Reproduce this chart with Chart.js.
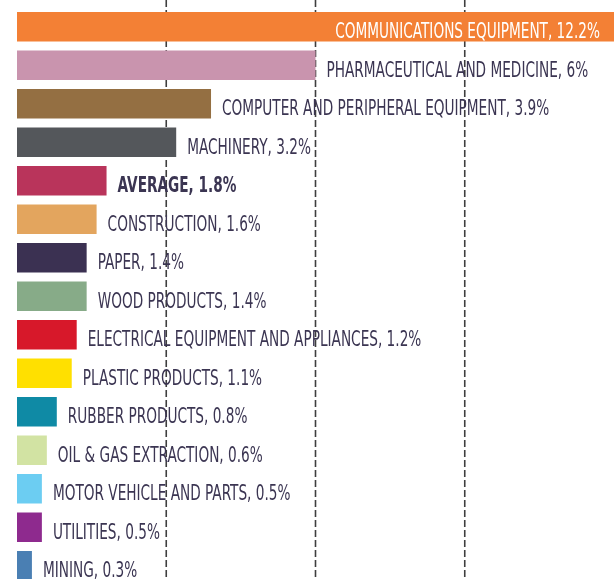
<!DOCTYPE html>
<html>
<head>
<meta charset="utf-8">
<script src="https://cdn.jsdelivr.net/npm/chart.js@4"></script>
<style>
  html, body { margin: 0; padding: 0; background: #fff; width: 614px; height: 579px; overflow: hidden; }
  #wrap { position: absolute; left: 0; top: 0; width: 614px; height: 585px; }
</style>
</head>
<body>
<div id="wrap"><canvas id="chart"></canvas></div>
<script>
// Данные
const categories = [
  'COMMUNICATIONS EQUIPMENT', 'PHARMACEUTICAL AND MEDICINE', 'COMPUTER AND PERIPHERAL EQUIPMENT',
  'MACHINERY', 'AVERAGE', 'CONSTRUCTION', 'PAPER', 'WOOD PRODUCTS',
  'ELECTRICAL EQUIPMENT AND APPLIANCES', 'PLASTIC PRODUCTS', 'RUBBER PRODUCTS',
  'OIL & GAS EXTRACTION', 'MOTOR VEHICLE AND PARTS', 'UTILITIES', 'MINING'
];
const values = [12.2, 6, 3.9, 3.2, 1.8, 1.6, 1.4, 1.4, 1.2, 1.1, 0.8, 0.6, 0.5, 0.5, 0.3];
const barColors = [
  '#f38035', '#c994ae', '#946f42', '#54575b', '#b9345b', '#e3a55e', '#3b3152', '#87ab88',
  '#d7182a', '#ffe000', '#0f8aa5', '#d2e3a3', '#6ccdf2', '#8e2a8e', '#4a7fb3'
];
const gridTicks = [3, 6, 9];

const FONT_FAMILY = "'Liberation Sans Narrow', 'DejaVu Sans Condensed', sans-serif";
const TEXT_SCALE = 0.69;

// Пунктирная сетка на всю высоту
const gridPlugin = {
  id: 'dashedGrid',
  beforeDatasetsDraw(chart) {
    const ctx = chart.ctx;
    const x = chart.scales.x;
    ctx.save();
    ctx.strokeStyle = '#3e3e3e';
    ctx.lineWidth = 1.6;
    ctx.setLineDash([7, 3]);
    gridTicks.forEach(t => {
      const px = x.getPixelForValue(t);
      ctx.beginPath();
      ctx.moveTo(px, 0);
      ctx.lineTo(px, chart.height);
      ctx.stroke();
    });
    ctx.restore();
  }
};

// Подписи у столбцов
const labelPlugin = {
  id: 'barLabels',
  afterDatasetsDraw(chart) {
    const ctx = chart.ctx;
    const meta = chart.getDatasetMeta(0);
    const area = chart.chartArea;
    ctx.save();
    ctx.textBaseline = 'alphabetic';
    meta.data.forEach((bar, i) => {
      const text = categories[i] + ', ' + values[i] + '%';
      const bold = categories[i] === 'AVERAGE';
      ctx.font = (bold ? 'bold ' : '') + '22px ' + FONT_FAMILY;
      let x, align;
      if (bar.x > area.right - 10) {
        ctx.fillStyle = '#ffffff';
        x = area.right - 14;
        align = 'right';
      } else {
        ctx.fillStyle = '#3b3552';
        x = bar.x + 11;
        align = 'left';
      }
      ctx.save();
      ctx.translate(x, bar.y + 11.5);
      ctx.scale(TEXT_SCALE, 1);
      ctx.textAlign = align;
      ctx.fillText(text, 0, 0);
      ctx.restore();
    });
    ctx.restore();
  }
};

window.onload = function() {
  const ctx = document.getElementById('chart').getContext('2d');
  new Chart(ctx, {
    type: 'bar',
    data: {
      labels: categories,
      datasets: [{
        data: values,
        backgroundColor: barColors,
        borderWidth: 0,
        barPercentage: 0.77,
        categoryPercentage: 1
      }]
    },
    options: {
      indexAxis: 'y',
      responsive: true,
      maintainAspectRatio: false,
      animation: false,
      layout: { padding: { left: 17, right: 0, top: 7.5, bottom: 0 } },
      plugins: { legend: { display: false }, tooltip: { enabled: false } },
      scales: {
        x: { min: 0, max: 12, display: false },
        y: { display: false }
      }
    },
    plugins: [gridPlugin, labelPlugin]
  });
};
</script>
</body>
</html>
